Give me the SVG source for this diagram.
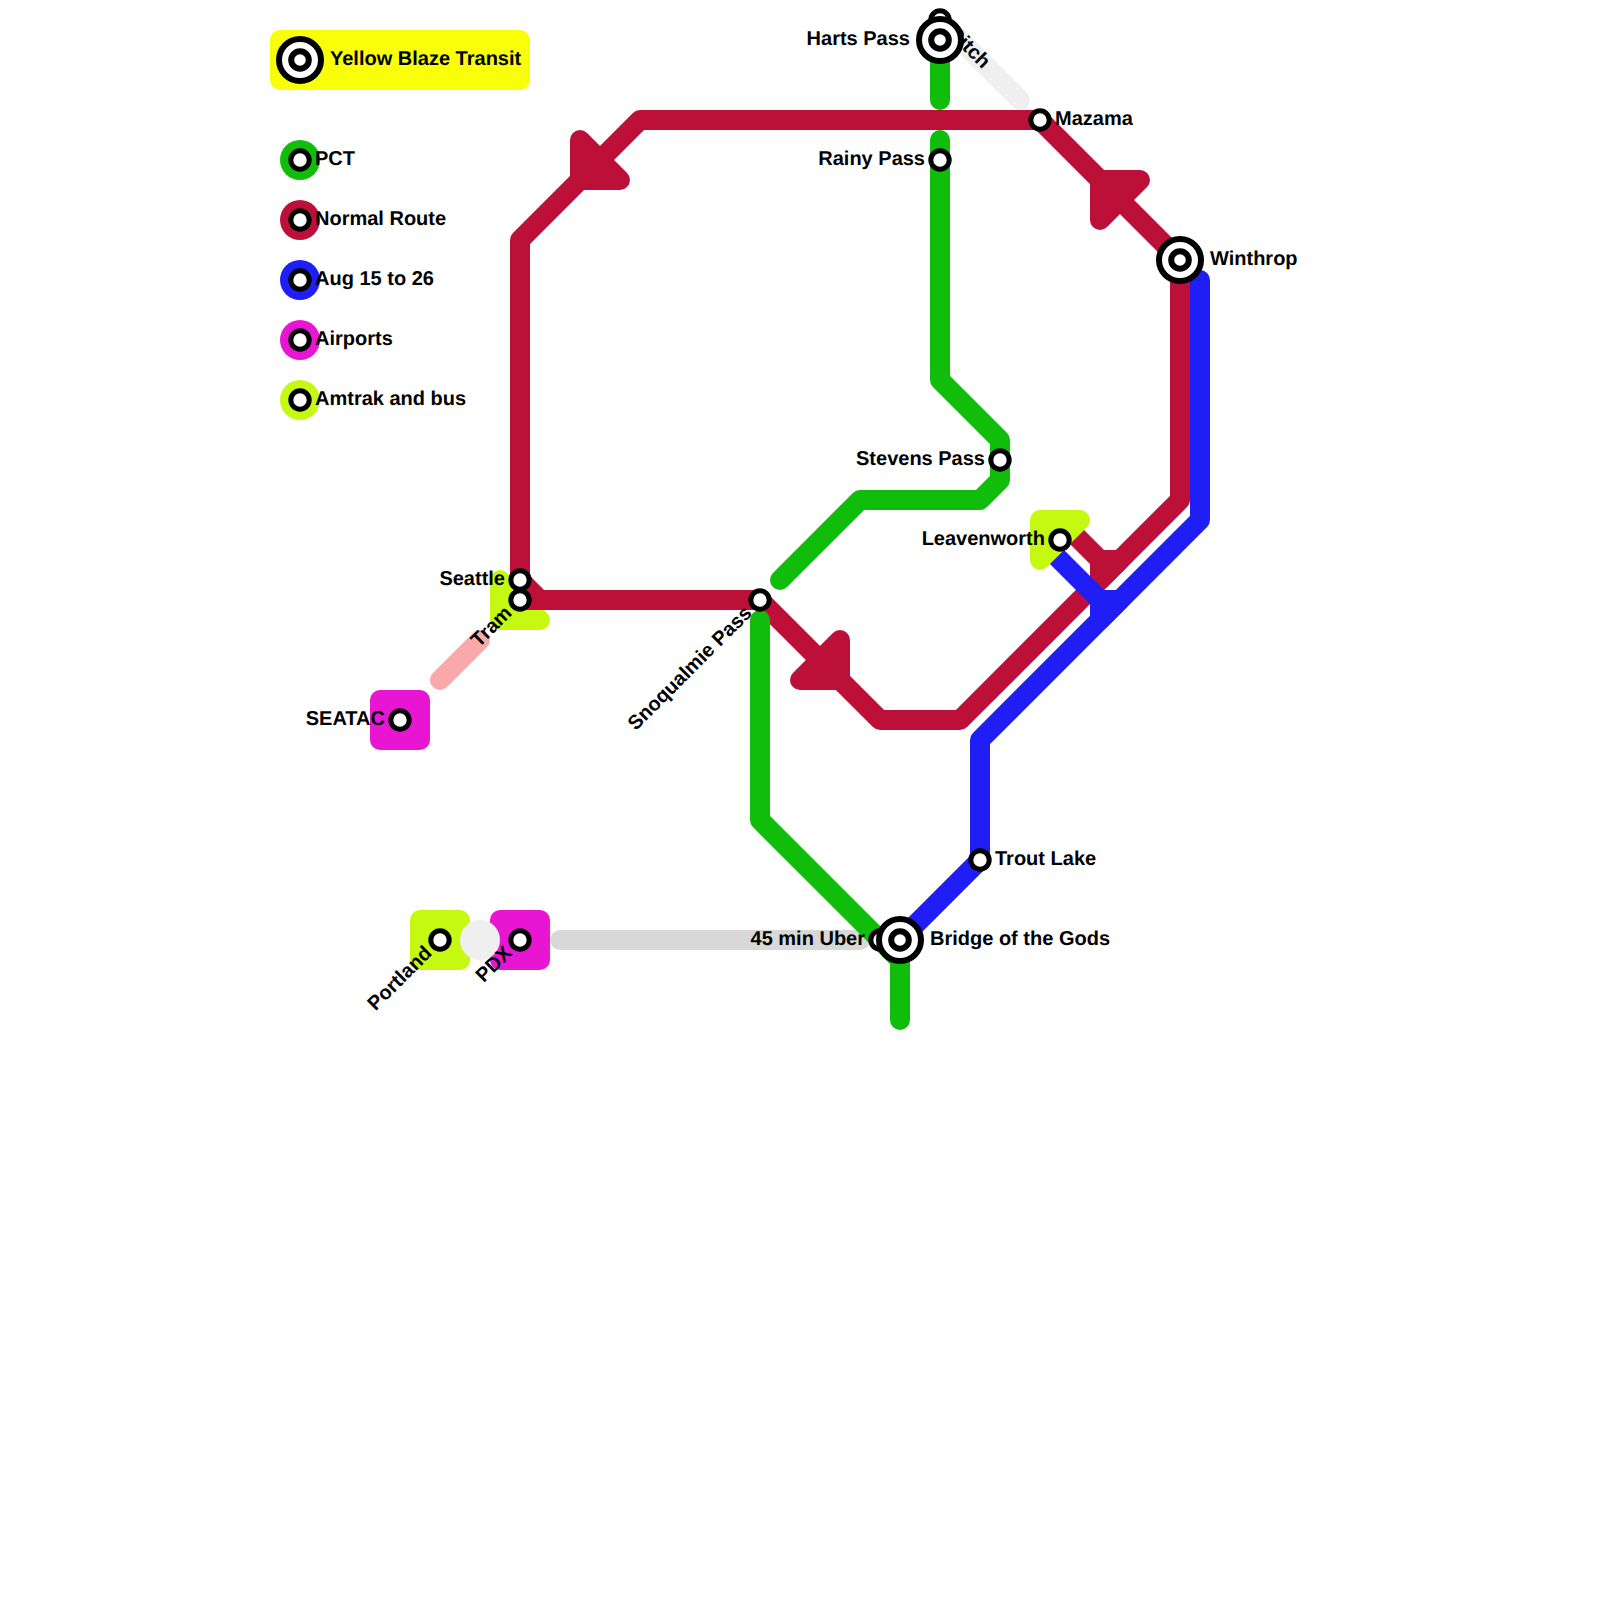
<svg xmlns="http://www.w3.org/2000/svg" width="1600" height="1600" viewBox="0 0 1600 1600">
<style>
text{font-family:"Liberation Sans",Arial,sans-serif;font-weight:bold;font-size:20px;fill:#000;text-rendering:geometricPrecision}
.end{text-anchor:end}
.line{fill:none;stroke-width:20;stroke-linejoin:round;stroke-linecap:round}
.butt{stroke-linecap:butt}
.red{stroke:#bd1038}.green{stroke:#0fbd0a}.blue{stroke:#1e1ef5}
.tram{stroke:#f9a9a9}.ditch{stroke:#efefef}.uber{stroke:#d8d8d8}
.limez{fill:#c6f911;stroke:#c6f911;stroke-width:20;stroke-linejoin:round}
.pinkbox{fill:#e815d3}.limebox{fill:#c6f911}
.tri{stroke-width:20;stroke-linejoin:round}
.redtri{fill:#bd1038;stroke:#bd1038}.bluetri{fill:#1e1ef5;stroke:#1e1ef5}
.st{fill:#fff;stroke:#000;stroke-width:5}
.ring{fill:#fff;stroke:#000;stroke-width:6}
.core{fill:#fff;stroke:#000;stroke-width:6}
</style>
<defs>
<g id="stop"><circle class="st" r="9.2"/></g>
<g id="hub"><circle class="ring" r="21"/><circle class="core" r="8.8"/></g>
</defs>

<g id="zones">
<rect x="270" y="30" width="260" height="60" rx="10" fill="#f8ff06"/>
<path class="limez" d="M500 580L540 620H500Z"/>
<path class="limez" d="M1040 520H1080L1040 560Z"/>
<rect class="pinkbox" x="370" y="690" width="60" height="60" rx="10"/>
<rect class="limebox" x="410" y="910" width="60" height="60" rx="10"/>
<rect class="pinkbox" x="490" y="910" width="60" height="60" rx="10"/>
<circle cx="480" cy="940" r="20" fill="#efefef"/>
</g>

<g id="connectors">
<path class="line tram" d="M440 680L480 640"/>
<path class="line ditch" d="M940 20L1020 100"/>
<path class="line uber" d="M560 940H860"/>
<path class="line red" d="M520 580V240L640 120H1040L1180 260V500L960 720H880L760 600H540L520 580"/>
<path class="line red" d="M520 600H540"/>
<path class="tri redtri" d="M580 140L620 180H580Z"/>
<path class="tri redtri" d="M1100 180H1140L1100 220Z"/>
<path class="tri redtri" d="M840 640V680H800Z"/>
<path class="line red butt" d="M1077 537L1100 560"/>
<path class="tri redtri" d="M1100 560H1120L1100 580Z"/>
<path class="line green" d="M940 40V100"/>
<path class="line green" d="M940 140V380L1000 440V480L980 500H860L780 580"/>
<path class="line green" d="M760 620V820L880 940L900 960V1020"/>
<path class="line blue" d="M1200 280V520L980 740V860L900 940"/>
<path class="line blue butt" d="M1057 557L1100 600"/>
<path class="tri bluetri" d="M1100 600H1120L1100 620Z"/>
</g>

<g id="legend-title"><use href="#hub" x="300" y="60"/><text x="330" y="64.5">Yellow Blaze Transit</text></g>
<g id="legend-pct"><circle cx="300" cy="160" r="20" fill="#0fbd0a"/><use href="#stop" x="300" y="160"/><text x="315" y="165">PCT</text></g>
<g id="legend-normal"><circle cx="300" cy="220" r="20" fill="#bd1038"/><use href="#stop" x="300" y="220"/><text x="315" y="225">Normal Route</text></g>
<g id="legend-aug"><circle cx="300" cy="280" r="20" fill="#1e1ef5"/><use href="#stop" x="300" y="280"/><text x="315" y="285">Aug 15 to 26</text></g>
<g id="legend-airports"><circle cx="300" cy="340" r="20" fill="#e815d3"/><use href="#stop" x="300" y="340"/><text x="315" y="345">Airports</text></g>
<g id="legend-amtrak"><circle cx="300" cy="400" r="20" fill="#c6f911"/><use href="#stop" x="300" y="400"/><text x="315" y="405">Amtrak and bus</text></g>

<g id="ditch"><use href="#stop" x="940" y="20"/><text transform="translate(940 20) rotate(45)" x="15" y="5">Ditch</text></g>
<g id="harts-pass"><use href="#hub" x="940" y="40"/><text class="end" x="910" y="45">Harts Pass</text></g>
<g id="rainy-pass"><use href="#stop" x="940" y="160"/><text class="end" x="925" y="165">Rainy Pass</text></g>
<g id="mazama"><use href="#stop" x="1040" y="120"/><text x="1055" y="125">Mazama</text></g>
<g id="winthrop"><use href="#hub" x="1180" y="260"/><text x="1210" y="265">Winthrop</text></g>
<g id="stevens-pass"><use href="#stop" x="1000" y="460"/><text class="end" x="985" y="465">Stevens Pass</text></g>
<g id="leavenworth"><use href="#stop" x="1060" y="540"/><text class="end" x="1045" y="545">Leavenworth</text></g>
<g id="seattle"><use href="#stop" x="520" y="580"/><text class="end" x="505" y="585">Seattle</text></g>
<g id="tram"><use href="#stop" x="520" y="600"/><text class="end" transform="translate(520 600) rotate(-45)" x="-15" y="5">Tram</text></g>
<g id="snoqualmie-pass"><use href="#stop" x="760" y="600"/><text class="end" transform="translate(760 600) rotate(-45)" x="-15" y="5">Snoqualmie Pass</text></g>
<g id="seatac"><use href="#stop" x="400" y="720"/><text class="end" x="385" y="725">SEATAC</text></g>
<g id="portland"><use href="#stop" x="440" y="940"/><text class="end" transform="translate(440 940) rotate(-45)" x="-15" y="5">Portland</text></g>
<g id="pdx"><use href="#stop" x="520" y="940"/><text class="end" transform="translate(520 940) rotate(-45)" x="-15" y="5">PDX</text></g>
<g id="uber"><use href="#stop" x="880" y="940"/><text class="end" x="865" y="945">45 min Uber</text></g>
<g id="bridge"><use href="#hub" x="900" y="940"/><text x="930" y="945">Bridge of the Gods</text></g>
<g id="trout-lake"><use href="#stop" x="980" y="860"/><text x="995" y="865">Trout Lake</text></g>
</svg>
